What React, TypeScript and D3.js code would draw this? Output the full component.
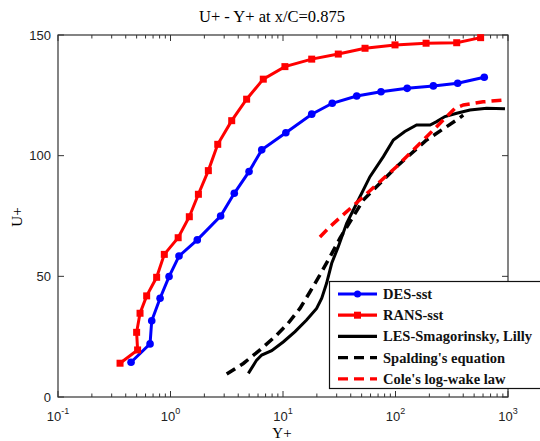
import React, { useEffect, useRef } from "react";
import * as d3 from "d3";

// DES-sst (blue, circles)
const desYp = [0.446, 0.658, 0.681, 0.808, 0.971, 1.19, 1.73, 2.79, 3.69, 4.99, 6.47, 10.6, 18.0, 27.4, 45.2, 74.3, 127, 217, 357, 615];
const desUp = [14.4, 22.0, 31.6, 40.9, 49.9, 58.4, 65.1, 75.0, 84.4, 93.4, 102.4, 109.5, 117.2, 121.7, 124.7, 126.5, 127.9, 128.9, 130.0, 132.5];

// RANS-sst (red, squares)
const ransYp = [0.356, 0.51, 0.5, 0.536, 0.614, 0.753, 0.881, 1.17, 1.47, 1.77, 2.17, 2.63, 3.5, 4.75, 6.68, 10.4, 18.0, 31.0, 53.6, 99, 187, 350, 571];
const ransUp = [14.0, 19.5, 26.8, 34.7, 41.9, 49.6, 59.1, 66.0, 74.7, 84.0, 93.8, 104.7, 114.5, 123.4, 131.7, 136.9, 140.0, 142.1, 144.5, 145.9, 146.6, 146.8, 148.9];

// LES-Smagorinsky, Lilly (black solid)
const lesYp = [4.92, 5.83, 6.47, 7.93, 10.1, 12.8, 16.2, 19.9, 22.1, 24.4, 27.1, 31.0, 36.8, 45.2, 59.3, 78.0, 95.7, 121, 154, 203, 232, 275, 350, 459, 646, 940];
const lesUp = [9.8, 15.3, 17.4, 19.2, 22.9, 27.1, 31.9, 36.7, 40.9, 47.1, 55.4, 62.3, 72.0, 80.3, 91.3, 99.6, 106.5, 110.0, 112.7, 112.7, 114.1, 116.2, 117.6, 118.9, 119.6, 119.4];

// Spalding's equation (black dashed)
const spalYp = [3.16, 4.44, 6.25, 8.49, 11.1, 14.2, 17.4, 21.3, 26.2, 32.1, 51.7, 102, 189, 350, 400];
const spalUp = [9.5, 13.9, 19.5, 25.0, 30.5, 36.8, 43.6, 50.6, 58.1, 65.8, 81.6, 95.4, 106.5, 114.8, 116.8];

// Cole's log-wake law (red dashed)
const coleYp = [21.3, 26.2, 51.7, 102, 203, 338, 401, 600, 940];
const coleUp = [66.3, 70.6, 83.0, 95.4, 109.3, 119.6, 121.0, 122.3, 123.1];

const xDecades = [-1, 0, 1, 2, 3];
const yTicks = [0, 50, 100, 150];

const legendNames = ["DES-sst", "RANS-sst", "LES-Smagorinsky, Lilly", "Spalding's equation", "Cole's log-wake law"];

const App = () => {
  const ref = useRef<SVGSVGElement>(null);

  useEffect(() => {
    const svg = d3.select(ref.current);
    svg.selectAll("*").remove();

    const left = 58, right = 508, top = 35, bottom = 397;
    const x = d3.scaleLog().domain([0.1, 1000]).range([left, right]);
    const y = d3.scaleLinear().domain([0, 150]).range([bottom, top]);
    const axisCol = "#333";
    const serif = "'Liberation Serif', 'Times New Roman', serif";
    const sans = "'Liberation Sans', Arial, sans-serif";

    svg.append("rect").attr("width", 540).attr("height", 441).attr("fill", "#fff");

    // Title
    svg.append("text")
      .attr("x", 272).attr("y", 22)
      .attr("text-anchor", "middle")
      .style("font-family", serif).style("font-size", "16.5px")
      .text("U+ - Y+ at x/C=0.875");

    const g = svg.append("g");

    // minor + major x ticks (top and bottom)
    const minors: number[] = [];
    for (let e = -1; e < 3; e++) {
      for (let m = 2; m <= 9; m++) minors.push(m * Math.pow(10, e));
    }
    minors.forEach(v => {
      g.append("line").attr("x1", x(v)).attr("x2", x(v)).attr("y1", bottom).attr("y2", bottom - 3.5)
        .attr("stroke", axisCol);
      g.append("line").attr("x1", x(v)).attr("x2", x(v)).attr("y1", top).attr("y2", top + 3.5)
        .attr("stroke", axisCol);
    });
    xDecades.forEach(e => {
      const px = x(Math.pow(10, e));
      g.append("line").attr("x1", px).attr("x2", px).attr("y1", bottom).attr("y2", bottom - 6).attr("stroke", axisCol);
      g.append("line").attr("x1", px).attr("x2", px).attr("y1", top).attr("y2", top + 6).attr("stroke", axisCol);
      const t = svg.append("text")
        .attr("x", px).attr("y", 421)
        .attr("text-anchor", "middle")
        .style("font-family", sans).style("font-size", "13px").attr("fill", "#222");
      t.append("tspan").text("10");
      t.append("tspan").attr("dy", -7).style("font-size", "9px").text(String(e));
    });

    yTicks.forEach(v => {
      g.append("line").attr("x1", left).attr("x2", left + 6).attr("y1", y(v)).attr("y2", y(v)).attr("stroke", axisCol);
      g.append("line").attr("x1", right).attr("x2", right - 6).attr("y1", y(v)).attr("y2", y(v)).attr("stroke", axisCol);
      svg.append("text")
        .attr("x", 51).attr("y", y(v) + 4.5)
        .attr("text-anchor", "end")
        .style("font-family", sans).style("font-size", "13px").attr("fill", "#222")
        .text(v);
    });

    g.append("rect").attr("x", left).attr("y", top).attr("width", right - left).attr("height", bottom - top)
      .attr("fill", "none").attr("stroke", axisCol).attr("stroke-width", 1.2);

    // Axis labels
    svg.append("text")
      .attr("transform", `translate(22, 217) rotate(-90)`)
      .attr("text-anchor", "middle")
      .style("font-family", serif).style("font-size", "15px")
      .text("U+");
    svg.append("text")
      .attr("x", 282).attr("y", 438)
      .attr("text-anchor", "middle")
      .style("font-family", serif).style("font-size", "15px")
      .text("Y+");

    const line = d3.line<[number, number]>().x(d => x(d[0])).y(d => y(d[1]));
    const zip = (a: number[], b: number[]) => a.map((v, i) => [v, b[i]] as [number, number]);

    const des = zip(desYp, desUp);
    const rans = zip(ransYp, ransUp);
    const les = zip(lesYp, lesUp);
    const spal = zip(spalYp, spalUp);
    const cole = zip(coleYp, coleUp);

    const plot = svg.append("g");
    plot.append("path").attr("d", line(des)).attr("fill", "none").attr("stroke", "#0000ff").attr("stroke-width", 3);
    plot.selectAll("circle.des").data(des).enter().append("circle")
      .attr("cx", d => x(d[0])).attr("cy", d => y(d[1])).attr("r", 3.8).attr("fill", "#0000ff");

    plot.append("path").attr("d", line(rans)).attr("fill", "none").attr("stroke", "#ff0000").attr("stroke-width", 3);
    plot.selectAll("rect.rans").data(rans).enter().append("rect")
      .attr("x", d => x(d[0]) - 3.5).attr("y", d => y(d[1]) - 3.5).attr("width", 7).attr("height", 7).attr("fill", "#ff0000");

    plot.append("path").attr("d", line(les)).attr("fill", "none").attr("stroke", "#000").attr("stroke-width", 3);
    plot.append("path").attr("d", line(spal)).attr("fill", "none").attr("stroke", "#000").attr("stroke-width", 3.5)
      .attr("stroke-dasharray", "10,6");
    plot.append("path").attr("d", line(cole)).attr("fill", "none").attr("stroke", "#ff0000").attr("stroke-width", 3.5)
      .attr("stroke-dasharray", "10,6");

    // Legend
    const lg = svg.append("g");
    lg.append("rect").attr("x", 329.5).attr("y", 281.5).attr("width", 212).attr("height", 107)
      .attr("fill", "#fff").attr("stroke", "#111").attr("stroke-width", 1.2);
    const styles = [
      { c: "#0000ff", dash: null, mark: "circle" },
      { c: "#ff0000", dash: null, mark: "square" },
      { c: "#000", dash: null, mark: null },
      { c: "#000", dash: "10,6", mark: null },
      { c: "#ff0000", dash: "10,6", mark: null },
    ];
    legendNames.forEach((name, i) => {
      const ly = 294 + i * 21.2;
      const s = styles[i];
      const ln = lg.append("line").attr("x1", 338).attr("x2", 377).attr("y1", ly).attr("y2", ly)
        .attr("stroke", s.c).attr("stroke-width", 3.2);
      if (s.dash) ln.attr("stroke-dasharray", s.dash);
      if (s.mark === "circle") lg.append("circle").attr("cx", 357.5).attr("cy", ly).attr("r", 3.5).attr("fill", s.c);
      if (s.mark === "square") lg.append("rect").attr("x", 354).attr("y", ly - 3.5).attr("width", 7).attr("height", 7).attr("fill", s.c);
      lg.append("text").attr("x", 383).attr("y", ly + 5)
        .style("font-family", serif).style("font-size", "14.5px").style("font-weight", "bold").attr("fill", "#111")
        .text(name);
    });
  }, []);

  return (
    <svg ref={ref} width={540} height={441} style={{ position: "absolute", left: 0, top: 0 }} />
  );
};

export default App;
